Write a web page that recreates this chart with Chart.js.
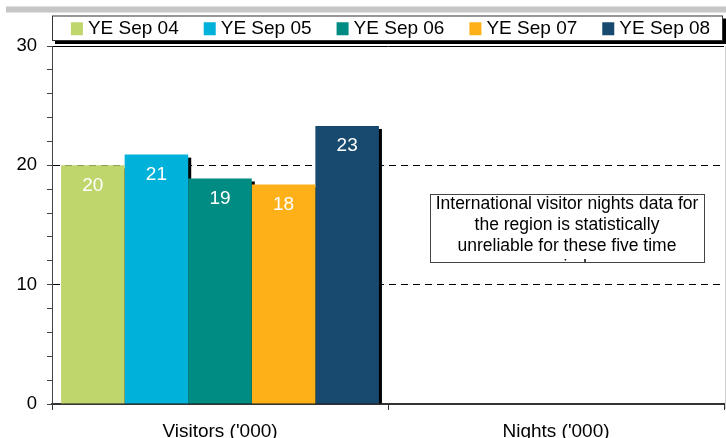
<!DOCTYPE html>
<html>
<head>
<meta charset="utf-8">
<script src="https://cdn.jsdelivr.net/npm/chart.js@4/dist/chart.umd.min.js"></script>
<style>
  html, body { margin: 0; padding: 0; background: #fff; }
  #wrap { width: 726px; height: 438px; position: relative; }
</style>
</head>
<body>
<div id="wrap"><canvas id="visitorChart"></canvas></div>
<script>
// Data
const categories = ["Visitors ('000)", "Nights ('000)"];
const seriesNames = ['YE Sep 04', 'YE Sep 05', 'YE Sep 06', 'YE Sep 07', 'YE Sep 08'];
const visitors = [20.0, 20.9, 18.9, 18.4, 23.3];
const nights = [null, null, null, null, null];
const yTicks = [0, 10, 20, 30];
const noteLines = [
    'International visitor nights data for',
    'the region is statistically',
    'unreliable for these five time',
    'periods'
];

const seriesColors = ['#BFD66C', '#00B1D9', '#008C82', '#FDB017', '#184A70'];
const FONT = '"Liberation Sans", Arial, sans-serif';

// Grey rule at top, boxed legend with shadow, right frame
const framePlugin = {
    id: 'frame',
    beforeDraw(chart) {
        const ctx = chart.ctx;
        const area = chart.chartArea;
        ctx.save();
        ctx.fillStyle = '#c6c6c6';
        ctx.fillRect(6, 6.5, chart.width - 6, 6);

        // right frame line
        ctx.strokeStyle = '#cfcfcf';
        ctx.lineWidth = 1;
        ctx.beginPath();
        ctx.moveTo(area.right + 1.5, area.top);
        ctx.lineTo(area.right + 1.5, area.bottom + 5);
        ctx.stroke();

        // legend box
        const bx = area.left, by = 15.5, bw = area.right - area.left - 1, bh = 25.5;
        ctx.fillStyle = '#000';
        ctx.fillRect(bx + 3, by + 3, bw, bh);
        ctx.fillStyle = '#fff';
        ctx.fillRect(bx, by, bw, bh);
        ctx.strokeStyle = '#333';
        ctx.strokeRect(bx + 0.5, by + 0.5, bw - 1, bh - 1);

        // legend items
        ctx.font = '19px ' + FONT;
        ctx.textBaseline = 'middle';
        const box = 12, gap = 5, spacing = 25;
        const widths = seriesNames.map(n => box + gap + ctx.measureText(n).width);
        const total = widths.reduce((a, b) => a + b, 0) + spacing * (widths.length - 1);
        let x = bx + (bw - total) / 2 + 3;
        const cy = by + bh / 2 + 0.5;
        seriesNames.forEach((name, i) => {
            ctx.fillStyle = seriesColors[i];
            ctx.fillRect(x, cy - 6.5, box, 13);
            ctx.fillStyle = '#000';
            ctx.fillText(name, x + box + gap, cy);
            x += widths[i] + spacing;
        });
        ctx.restore();
    }
};

// Flat black drop shadows behind all bars
const barShadowPlugin = {
    id: 'barShadow',
    beforeDatasetsDraw(chart) {
        const ctx = chart.ctx;
        ctx.save();
        ctx.fillStyle = '#000';
        chart.data.datasets.forEach((ds, i) => {
            chart.getDatasetMeta(i).data.forEach((bar, j) => {
                if (ds.data[j] == null) return;
                const w = bar.width;
                ctx.fillRect(bar.x - w / 2 + 3, bar.y + 3, w, bar.base - bar.y - 3);
            });
        });
        ctx.restore();
    }
};

// White value labels inside bar tops
const valueLabelPlugin = {
    id: 'valueLabels',
    afterDatasetsDraw(chart) {
        const ctx = chart.ctx;
        ctx.save();
        ctx.font = '19px ' + FONT;
        ctx.fillStyle = '#fff';
        ctx.textAlign = 'center';
        ctx.textBaseline = 'middle';
        chart.data.datasets.forEach((ds, i) => {
            chart.getDatasetMeta(i).data.forEach((bar, j) => {
                if (ds.data[j] == null) return;
                ctx.fillText(Math.round(ds.data[j]).toString(), bar.x, bar.y + 20);
            });
        });
        ctx.restore();
    }
};

// Note box over the Nights category
const notePlugin = {
    id: 'note',
    afterDraw(chart) {
        const ctx = chart.ctx;
        const xs = chart.scales.x;
        const ys = chart.scales.y;
        const cx = xs.getPixelForValue(1) + 11;
        const top = ys.getPixelForValue(17.6);
        const bottom = ys.getPixelForValue(11.9);
        const w = 274;
        const left = Math.round(cx - w / 2) + 0.5;
        ctx.save();
        ctx.fillStyle = '#fff';
        ctx.fillRect(left, top, w, bottom - top);
        ctx.beginPath();
        ctx.rect(left, top, w, bottom - top);
        ctx.clip();
        ctx.font = '17.5px ' + FONT;
        ctx.fillStyle = '#000';
        ctx.textAlign = 'center';
        ctx.textBaseline = 'middle';
        noteLines.forEach((line, i) => {
            ctx.fillText(line, cx, top + 10.5 + i * 20.8);
        });
        ctx.restore();
        ctx.save();
        ctx.strokeStyle = '#444';
        ctx.lineWidth = 1;
        ctx.strokeRect(left, Math.round(top) + 0.5, w, Math.round(bottom - top));
        ctx.restore();
    }
};

const createVisitorChart = () => {
    const ctx = document.getElementById('visitorChart').getContext('2d');
    return new Chart(ctx, {
        type: 'bar',
        data: {
            labels: categories,
            datasets: seriesNames.map((name, i) => ({
                label: name,
                data: [visitors[i], nights[i]],
                backgroundColor: seriesColors[i],
                borderWidth: 0,
                categoryPercentage: 0.946,
                barPercentage: 1.0
            }))
        },
        options: {
            responsive: true,
            maintainAspectRatio: false,
            animation: false,
            layout: {
                padding: { top: 46, right: 2, left: 0, bottom: 0 }
            },
            plugins: {
                legend: { display: false },
                title: { display: false },
                tooltip: { enabled: false }
            },
            scales: {
                x: {
                    offset: true,
                    afterFit: (scale) => { scale.height = 34; },
                    grid: {
                        display: true,
                        drawOnChartArea: false,
                        drawTicks: true,
                        tickLength: 6,
                        color: '#333',
                        offset: true
                    },
                    border: { display: true, color: '#333', width: 2 },
                    ticks: {
                        color: '#000',
                        padding: 10,
                        font: { family: FONT, size: 19 }
                    }
                },
                y: {
                    min: 0,
                    max: 30,
                    afterFit: (scale) => { scale.width = 52; },
                    afterBuildTicks: (scale) => {
                        const t = [];
                        for (let v = 0; v <= 30; v += 2) t.push({ value: v });
                        scale.ticks = t;
                    },
                    grid: {
                        drawOnChartArea: true,
                        drawTicks: true,
                        tickLength: 5,
                        tickColor: '#444',
                        lineWidth: 1,
                        color: (c) => (c.tick && c.tick.value > 0 && yTicks.includes(c.tick.value)) ? '#000' : 'rgba(0,0,0,0)'
                    },
                    border: {
                        display: true,
                        color: '#444',
                        width: 1,
                        dash: (c) => (c.tick && c.tick.value === 30) ? [] : [7, 5]
                    },
                    ticks: {
                        color: '#000',
                        padding: 10,
                        autoSkip: false,
                        font: { family: FONT, size: 18.5 },
                        callback: (v) => yTicks.includes(v) ? String(v) : ''
                    }
                }
            }
        },
        plugins: [framePlugin, barShadowPlugin, valueLabelPlugin, notePlugin]
    });
};

document.addEventListener('DOMContentLoaded', () => {
    const visitorChart = createVisitorChart();
});
</script>
</body>
</html>
